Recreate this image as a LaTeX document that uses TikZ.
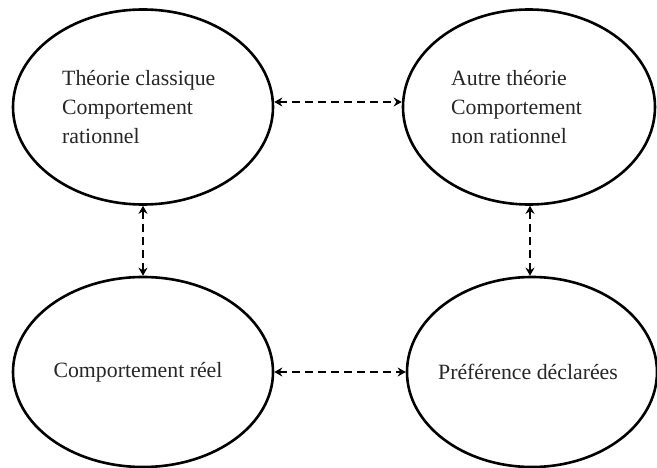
\documentclass[tikz,border=0pt]{standalone}
\usepackage{fontspec}
\setmainfont{Liberation Serif}
\usetikzlibrary{shapes.geometric,arrows.meta}
\begin{document}
\begin{tikzpicture}[x=1pt,y=-1pt,
  bubble/.style={draw=black,line width=2.6pt,ellipse,inner sep=0pt},
  label/.style={text=black!85,font=\fontsize{21.8}{29}\selectfont,inner sep=0pt},
  link/.style={line width=2.8pt,dash pattern=on 8pt off 5pt,
    {Stealth[length=8pt,width=9pt]}-{Stealth[length=8pt,width=9pt]}}]
  \useasboundingbox (0,0) rectangle (657,468);
  % the four ellipses
  \node[bubble,minimum width=260pt,minimum height=195pt] (tl) at (143,107) {};
  \node[bubble,minimum width=252pt,minimum height=195pt] (tr) at (529,107) {};
  \node[bubble,minimum width=260pt,minimum height=190pt] (bl) at (143,372) {};
  \node[bubble,minimum width=250pt,minimum height=190pt] (br) at (532,372) {};
  % texts
  \node[label,align=left,anchor=west] (ttl) at (62,107)
    {Théorie classique\\Comportement\\rationnel};
  \node[label,align=left,anchor=west] (ttr) at (451,107)
    {Autre théorie\\Comportement\\non rationnel};
  \node[label] (tbl) at (138,372) {Comportement réel};
  \node[label] (tbr) at (528,372) {Préférence déclarées};
  % dashed two-way links
  \draw[link] ([yshift=5pt]tl.east) -- ([yshift=5pt]tr.west);
  \draw[link] (bl.east) -- (br.west);
  \draw[link] (tl.south) -- (bl.north);
  \draw[link] ([xshift=1pt]tr.south) -- ([xshift=-2pt]br.north);
\end{tikzpicture}
\end{document}
